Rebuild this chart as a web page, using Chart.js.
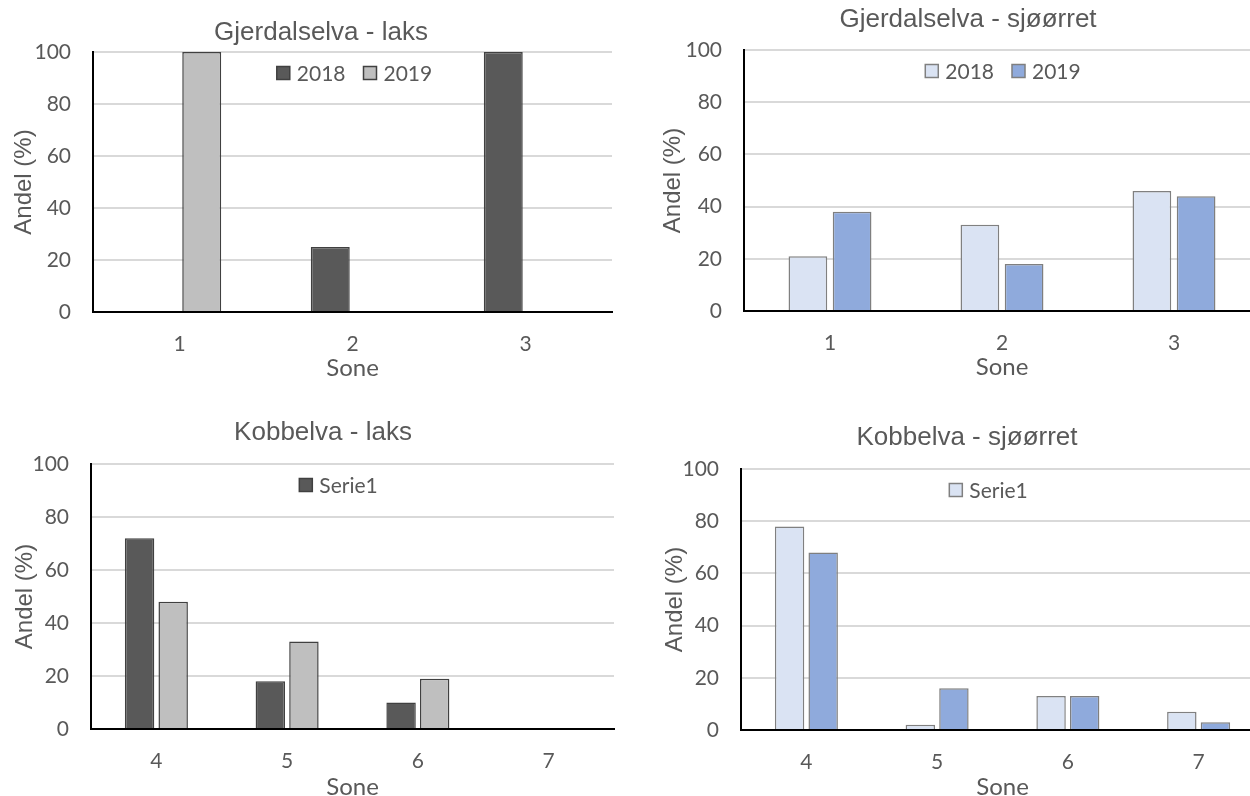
<!DOCTYPE html>
<html>
<head>
<meta charset="utf-8">
<script src="https://cdn.jsdelivr.net/npm/chart.js@4.4.1/dist/chart.umd.min.js"></script>
<style>
	html, body { margin: 0; padding: 0; background: #fff; width: 1250px; height: 796px; overflow: hidden; }
	canvas { position: absolute; }
</style>
</head>
<body>
<canvas id="gjerdalLaks" width="625" height="400" style="left:0;top:0"></canvas>
<canvas id="gjerdalSjo" width="640" height="400" style="left:625px;top:0"></canvas>
<canvas id="kobbelLaks" width="625" height="400" style="left:0;top:400px"></canvas>
<canvas id="kobbelSjo" width="645" height="400" style="left:625px;top:400px"></canvas>
<script>
// Andel (%) per sone
const gjerdalSoner = ['1', '2', '3'];
const gjerdalLaks2018 = [0, 25, 100];
const gjerdalLaks2019 = [100, 0, 0];
const gjerdalSjo2018 = [21, 33, 46];
const gjerdalSjo2019 = [38, 18, 44];

const kobbelSoner = ['4', '5', '6', '7'];
const kobbelLaksSerie1 = [72, 18, 10, 0];
const kobbelLaksSerie2 = [48, 33, 19, 0];
const kobbelSjoSerie1 = [78, 2, 13, 7];
const kobbelSjoSerie2 = [68, 16, 13, 3];

const yMax = 100;
const yStep = 20;

const TEXT = '#595959';
const DARK = '#595959';
const GREY = '#bfbfbf';
const LIGHTBLUE = '#dae3f3';
const BLUE = '#8faadc';

function BarSet(label, data, fill, border) {
	return {
		label: label,
		data: data,
		backgroundColor: fill,
		borderColor: border,
		borderWidth: 1.5
	};
}

// Excel-style legend inside the plot, one row, centered near the top
const innerLegend = {
	id: 'innerLegend',
	afterDatasetsDraw(chart, args, opts) {
		const ctx = chart.ctx;
		const area = chart.chartArea;
		const items = chart.data.datasets.filter(ds => ds.label !== '');
		const box = 13;
		const gap = 7;
		const spacing = 18;

		ctx.save();
		ctx.font = '21px Lato';
		ctx.textBaseline = 'middle';
		const widths = items.map(ds => box + gap + ctx.measureText(ds.label).width);
		const total = widths.reduce((a, b) => a + b, 0) + spacing * (items.length - 1);
		let x = (area.left + area.right) / 2 - total / 2 + opts.shift;
		const y = area.top + opts.offsetY;

		items.forEach((ds, i) => {
			ctx.fillStyle = ds.backgroundColor;
			ctx.fillRect(x, y - box / 2, box, box);
			ctx.strokeStyle = ds.borderColor;
			ctx.lineWidth = 1.5;
			ctx.strokeRect(x, y - box / 2, box, box);
			ctx.fillStyle = TEXT;
			ctx.fillText(ds.label, x + box + gap, y + 1);
			x += widths[i] + spacing;
		});
		ctx.restore();
	}
};

function CreateBarChart(canvasId, title, labels, datasets, box) {
	const tickFont = { family: 'Lato', size: 21, lineHeight: 1 };

	new Chart(document.getElementById(canvasId), {
		type: 'bar',
		data: { labels: labels, datasets: datasets },
		plugins: [innerLegend],
		options: {
			responsive: false,
			animation: false,
			layout: {
				padding: { left: box.padLeft, right: box.padRight, top: 0, bottom: box.padBottom }
			},
			datasets: {
				bar: { categoryPercentage: 0.514, barPercentage: 0.876 }
			},
			plugins: {
				title: {
					display: true,
					text: title,
					color: TEXT,
					font: { family: 'Liberation Sans', size: 26, weight: 'normal', lineHeight: 1 },
					padding: { top: box.titleTop, bottom: box.titleBottom }
				},
				legend: { display: false },
				innerLegend: { offsetY: 21, shift: box.legendShift },
				tooltip: { enabled: false }
			},
			scales: {
				x: {
					z: 1,
					grid: { display: false, drawTicks: false },
					border: { color: '#000', width: 2 },
					ticks: { color: TEXT, font: tickFont, padding: 22 },
					title: {
						display: true,
						text: 'Sone',
						color: TEXT,
						font: { family: 'Lato', size: 24, lineHeight: 1 },
						padding: 0
					},
					afterFit: scale => { scale.height = box.xHeight; }
				},
				y: {
					min: 0,
					max: yMax,
					ticks: { stepSize: yStep, color: TEXT, font: tickFont, padding: 22 },
					grid: { color: '#d9d9d9', lineWidth: 2, drawTicks: false },
					border: { color: '#000', width: 2 },
					title: {
						display: true,
						text: 'Andel (%)',
						color: TEXT,
						font: { family: 'Liberation Sans', size: 24, lineHeight: 1 },
						padding: { top: box.yTitlePad, bottom: 0 }
					},
					afterFit: scale => { scale.width = box.yWidth; }
				}
			}
		}
	});
}

CreateBarChart('gjerdalLaks', 'Gjerdalselva - laks', gjerdalSoner, [
	BarSet('2018', gjerdalLaks2018, DARK, '#404040'),
	BarSet('2019', gjerdalLaks2019, GREY, '#404040')
], { padLeft: 30, padRight: 13, padBottom: 20, yWidth: 63, xHeight: 68, titleTop: 20, titleBottom: 6, yTitlePad: -18, legendShift: 2 });

CreateBarChart('gjerdalSjo', 'Gjerdalselva - sjøørret', gjerdalSoner, [
	BarSet('2018', gjerdalSjo2018, LIGHTBLUE, '#808080'),
	BarSet('2019', gjerdalSjo2019, BLUE, '#7f7f7f')
], { padLeft: 51, padRight: 5, padBottom: 21, yWidth: 68, xHeight: 68, titleTop: 7, titleBottom: 17, yTitlePad: -15, legendShift: 1 });

// Kobbelva: bare første serie har navn i tegnforklaringen
CreateBarChart('kobbelLaks', 'Kobbelva - laks', kobbelSoner, [
	BarSet('Serie1', kobbelLaksSerie1, DARK, '#404040'),
	BarSet('', kobbelLaksSerie2, GREY, '#404040')
], { padLeft: 32, padRight: 11, padBottom: 1, yWidth: 59, xHeight: 70, titleTop: 20, titleBottom: 18, yTitlePad: -19, legendShift: -14 });

CreateBarChart('kobbelSjo', 'Kobbelva - sjøørret', kobbelSoner, [
	BarSet('Serie1', kobbelSjoSerie1, LIGHTBLUE, '#808080'),
	BarSet('', kobbelSjoSerie2, BLUE, '#7f7f7f')
], { padLeft: 45, padRight: 6, padBottom: 1, yWidth: 71, xHeight: 69, titleTop: 25, titleBottom: 18, yTitlePad: -7, legendShift: -14 });
</script>
</body>
</html>
